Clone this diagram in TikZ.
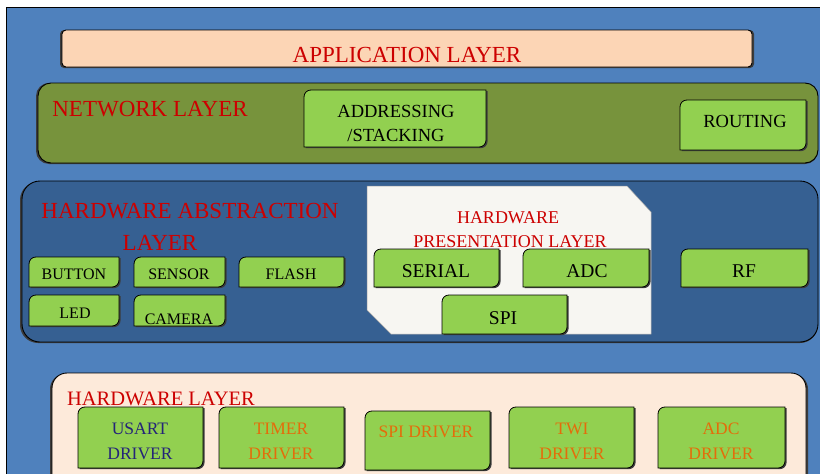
\documentclass[tikz,border=0pt]{standalone}
\usepackage{fontspec}
\setmainfont{Liberation Serif}
\definecolor{bgblue}{HTML}{4F81BD}
\definecolor{appfill}{HTML}{FCD5B5}
\definecolor{netfill}{HTML}{77933C}
\definecolor{halfill}{HTML}{366092}
\definecolor{presfill}{HTML}{F7F6F2}
\definecolor{hwfill}{HTML}{FDEADA}
\definecolor{boxgreen}{HTML}{92D050}
\definecolor{titlered}{RGB}{204,0,0}
\definecolor{drvorange}{HTML}{E46C0A}
\definecolor{drvnavy}{RGB}{36,36,120}
\definecolor{edgeshade}{RGB}{60,60,60}

% outline of a module box: rounded top-left and bottom-right corners (radius 7)
\newcommand\modpath[4]{(#1,#2+7) .. controls (#1,#2+3) and (#1+3,#2) .. (#1+7,#2) -- (#3,#2)
     -- (#3,#4-7) .. controls (#3,#4-3) and (#3-3,#4) .. (#3-7,#4) -- (#1,#4) -- cycle}
% green module box with a drop shade
\newcommand\modbox[4]{%
  \fill[edgeshade,shift={(1.6,1.2)}] \modpath{#1}{#2}{#3}{#4};
  \draw[line width=0.8pt,fill=boxgreen] \modpath{#1}{#2}{#3}{#4};
}

\begin{document}
\begin{tikzpicture}[x=1pt,y=-1pt,
  layertitle/.style={text=titlered,inner sep=0,anchor=base,font=\fontsize{23}{26}\selectfont},
  prestitle/.style={text=titlered,inner sep=0,anchor=base,font=\fontsize{18}{21}\selectfont},
  netlabel/.style={inner sep=0,anchor=base,font=\fontsize{18.5}{22}\selectfont},
  hallabel/.style={inner sep=0,anchor=base,font=\fontsize{16}{19}\selectfont},
  preslabel/.style={inner sep=0,anchor=base,font=\fontsize{19.5}{22}\selectfont},
  drvlabel/.style={inner sep=0,anchor=base,font=\fontsize{17.5}{21}\selectfont},
  layerline/.style={line width=0.9pt,draw=black}]
\useasboundingbox (0,0) rectangle (820,474);
\fill[white] (0,0) rectangle (820,474);

% outer frame
\draw[line width=1pt,fill=bgblue] (6,7) rectangle (840,490);

% application layer
\fill[edgeshade,rounded corners=4] (60,30) rectangle (754,68);
\draw[layerline,fill=appfill,rounded corners=4] (62,30) rectangle (752,67);
\node[layertitle] (app) at (407,62) {APPLICATION LAYER};

% network layer
\fill[edgeshade,rounded corners=13] (36,83) rectangle (818,164);
\draw[layerline,fill=netfill,rounded corners=13] (38,83) rectangle (818,163);
\node[layertitle] (net) at (150,116.5) {NETWORK LAYER};
\modbox{304}{90}{486}{147}
\node[netlabel] (addr1) at (396,117) {ADDRESSING};
\node[netlabel] (addr2) at (396,141) {/STACKING};
\modbox{680}{100}{806}{150}
\node[netlabel] (routing) at (745,127) {ROUTING};

% hardware abstraction layer
\fill[edgeshade,rounded corners=18] (20,182) rectangle (818,343);
\draw[layerline,fill=halfill,rounded corners=18] (22,181) rectangle (818,342);
\node[layertitle] (hal1) at (190,218) {HARDWARE ABSTRACTION};
\node[layertitle] (hal2) at (160,250) {LAYER};

% hardware presentation layer (snipped corners)
\draw[draw=gray!70,line width=0.5pt,fill=presfill]
  (367,186) -- (627,186) -- (651,212) -- (651,334) -- (391,334) -- (367,310) -- cycle;
\node[prestitle] (hpl1) at (508,223) {HARDWARE};
\node[prestitle] (hpl2) at (510,247) {PRESENTATION LAYER};

\modbox{29}{257}{119}{287}
\node[hallabel] (button) at (74,279) {BUTTON};
\modbox{134}{257}{225}{287}
\node[hallabel] (sensor) at (179,279) {SENSOR};
\modbox{239}{257}{344}{287}
\node[hallabel] (flash) at (291,279) {FLASH};
\modbox{29}{295}{119}{326}
\node[hallabel] (led) at (75,318) {LED};
\modbox{134}{295}{225}{326}
\node[hallabel] (camera) at (179,324) {CAMERA};

\modbox{374}{249}{499}{287}
\node[preslabel] (serial) at (436,277) {SERIAL};
\modbox{523}{249}{649}{287}
\node[preslabel] (adc) at (587,277) {ADC};
\modbox{681}{249}{808}{287}
\node[preslabel] (rf) at (744,277) {RF};
\modbox{442}{295}{567}{334}
\node[preslabel] (spi) at (503,324) {SPI};

% hardware layer
\fill[edgeshade,rounded corners=15] (50,374) rectangle (808,500);
\draw[layerline,fill=hwfill,rounded corners=15] (52,373) rectangle (806,500);
\node[layertitle,font=\fontsize{20.5}{24}\selectfont] (hwl) at (161,405) {HARDWARE LAYER};

\modbox{78}{407}{203}{468}
\node[drvlabel,text=drvnavy] (usart1) at (140,434) {USART};
\node[drvlabel,text=drvnavy] (usart2) at (140,459) {DRIVER};
\modbox{219}{407}{344}{468}
\node[drvlabel,text=drvorange] (timer1) at (281,434) {TIMER};
\node[drvlabel,text=drvorange] (timer2) at (281,459) {DRIVER};
\modbox{365}{411}{490}{470}
\node[drvlabel,text=drvorange] (spidrv) at (426,437) {SPI DRIVER};
\modbox{509}{407}{634}{468}
\node[drvlabel,text=drvorange] (twi1) at (572,434) {TWI};
\node[drvlabel,text=drvorange] (twi2) at (572,459) {DRIVER};
\modbox{658}{407}{785}{468}
\node[drvlabel,text=drvorange] (adcdrv1) at (721,434) {ADC};
\node[drvlabel,text=drvorange] (adcdrv2) at (721,459) {DRIVER};
\end{tikzpicture}
\end{document}
